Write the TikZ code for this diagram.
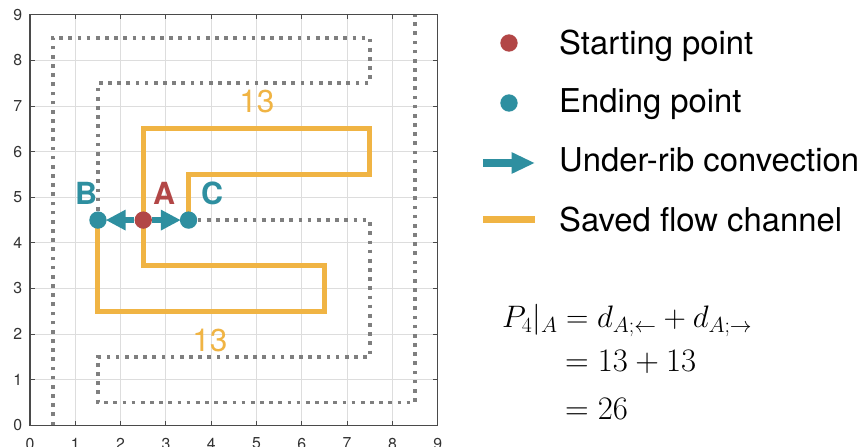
\RequirePackage{fix-cm}
\documentclass[tikz,border=0pt]{standalone}
\usepackage{amsmath}
\usepackage{fontspec}
\setsansfont{TeX Gyre Heros}
\usetikzlibrary{arrows.meta}
\definecolor{chanorange}{HTML}{F0B444}
\definecolor{endteal}{HTML}{2E8FA0}
\definecolor{startred}{HTML}{B24646}
\definecolor{dotgray}{HTML}{7F7F7F}
\definecolor{gridgray}{HTML}{DDDDDD}
\definecolor{axisgray}{HTML}{4A4A4A}
\definecolor{ticktext}{HTML}{333333}
\tikzset{
  dotpath/.style={dotgray, line width=0.115cm, dash pattern=on 0.11cm off 0.165cm},
  chanpath/.style={chanorange, line width=0.15cm, line join=miter},
  ptdot/.style={circle, minimum size=0.52cm, inner sep=0pt},
  convarrow/.style={endteal, line width=4.6pt, -{Triangle[length=17pt,width=16.5pt]}, shorten >=-1pt},
  ptlabel/.style={font=\sffamily\bfseries\fontsize{26}{30}\selectfont, inner sep=0pt},
  numlabel/.style={chanorange, font=\sffamily\fontsize{27}{30}\selectfont, inner sep=0pt},
  legtext/.style={anchor=base west, inner sep=0pt, font=\sffamily\fontsize{28}{32}\selectfont},
  ticklab/.style={ticktext, inner sep=0pt, font=\sffamily\fontsize{13.5}{15}\selectfont},
  eqtext/.style={anchor=base west, inner sep=0pt}
}
\begin{document}
\begin{tikzpicture}[x=0.03cm,y=0.03cm]
\useasboundingbox (0,0) rectangle (865,446);
\fill[white] (0,0) rectangle (865,446);
\begin{scope}[shift={(30,20.7)}]
\begin{scope}[x=1.359cm,y=1.368cm]
  % grid
  \foreach \i in {1,...,8} {
    \draw[gridgray, line width=0.7pt] (\i,0) -- (\i,9);
    \draw[gridgray, line width=0.7pt] (0,\i) -- (9,\i);
  }
  % ticks
  \foreach \i in {0,...,9} {
    \draw[axisgray, line width=0.8pt] (\i,0) -- (\i,0.1);
    \draw[axisgray, line width=0.8pt] (\i,9) -- (\i,8.9);
    \draw[axisgray, line width=0.8pt] (0,\i) -- (0.1,\i);
    \draw[axisgray, line width=0.8pt] (9,\i) -- (8.9,\i);
    \node[ticklab, anchor=north] (xl\i) at (\i,-0.27) {\i};
    \node[ticklab, anchor=east] (yl\i) at (-0.17,\i) {\i};
  }
  \draw[axisgray, line width=1pt] (0,0) rectangle (9,9);
  % key points
  \coordinate (pA) at (2.5,4.5);
  \coordinate (pB) at (1.5,4.5);
  \coordinate (pC) at (3.5,4.5);
  \coordinate (gs) at (0.5,0);
  \coordinate (ge) at (8.5,9);
  % dotted channel
  \draw[dotpath] (gs) -- (0.5,8.5) -- (7.5,8.5) -- (7.5,7.5) -- (1.5,7.5) -- (pB);
  \draw[dotpath] (pC) -- (7.5,4.5) -- (7.5,1.5) -- (1.5,1.5) -- (1.5,0.5) -- (8.5,0.5) -- (ge);
  % saved channel
  \draw[chanpath] (pB) -- (1.5,2.5) -- (6.5,2.5) -- (6.5,3.5) -- (2.5,3.5) -- (2.5,6.5)
     -- (7.5,6.5) -- (7.5,5.5) -- (3.5,5.5) -- (pC);
  % points
  \node[ptdot, fill=endteal] (B) at (pB) {};
  \node[ptdot, fill=endteal] (C) at (pC) {};
  \node[ptdot, fill=startred] (A) at (pA) {};
  \draw[convarrow] (A) -- (B);
  \draw[convarrow] (A) -- (C);
  \node[ptlabel, endteal] (labB) at (1.24,5.09) {B};
  \node[ptlabel, startred] (labA) at (2.96,5.09) {A};
  \node[ptlabel, endteal] (labC) at (4.02,5.09) {C};
  \node[numlabel] (n13a) at (5.01,7.09) {13};
  \node[numlabel] (n13b) at (3.97,1.87) {13};
\end{scope}
\end{scope}
% legend
\node[ptdot, fill=startred] (legA) at (509,403) {};
\node[ptdot, fill=endteal] (legB) at (509,343) {};
\coordinate (legArrS) at (483,283);
\coordinate (legArrE) at (535,283);
\draw[endteal, line width=6pt, -{Triangle[length=20pt,width=17pt]}] (legArrS) -- (legArrE);
\coordinate (legChS) at (483,226);
\coordinate (legChE) at (535,226);
\draw[chanorange, line width=0.21cm] (legChS) -- (legChE);
\node[legtext] (t1) at (559,391) {Starting point};
\node[legtext] (t2) at (559,333) {Ending point};
\node[legtext] (t3) at (559,274) {Under-rib convection};
\node[legtext] (t4) at (559,214) {Saved flow channel};
% equation
\node[eqtext, font=\fontsize{26.5}{30}\selectfont] (eq1) at (502,118) {$P_4|_A = d_{A;\leftarrow} + d_{A;\rightarrow}$};
\node[eqtext, font=\fontsize{28}{30}\selectfont] (eq2) at (565,74) {$= 13 + 13$};
\node[eqtext, font=\fontsize{28}{30}\selectfont] (eq3) at (565,26) {$= 26$};
\end{tikzpicture}
\end{document}
